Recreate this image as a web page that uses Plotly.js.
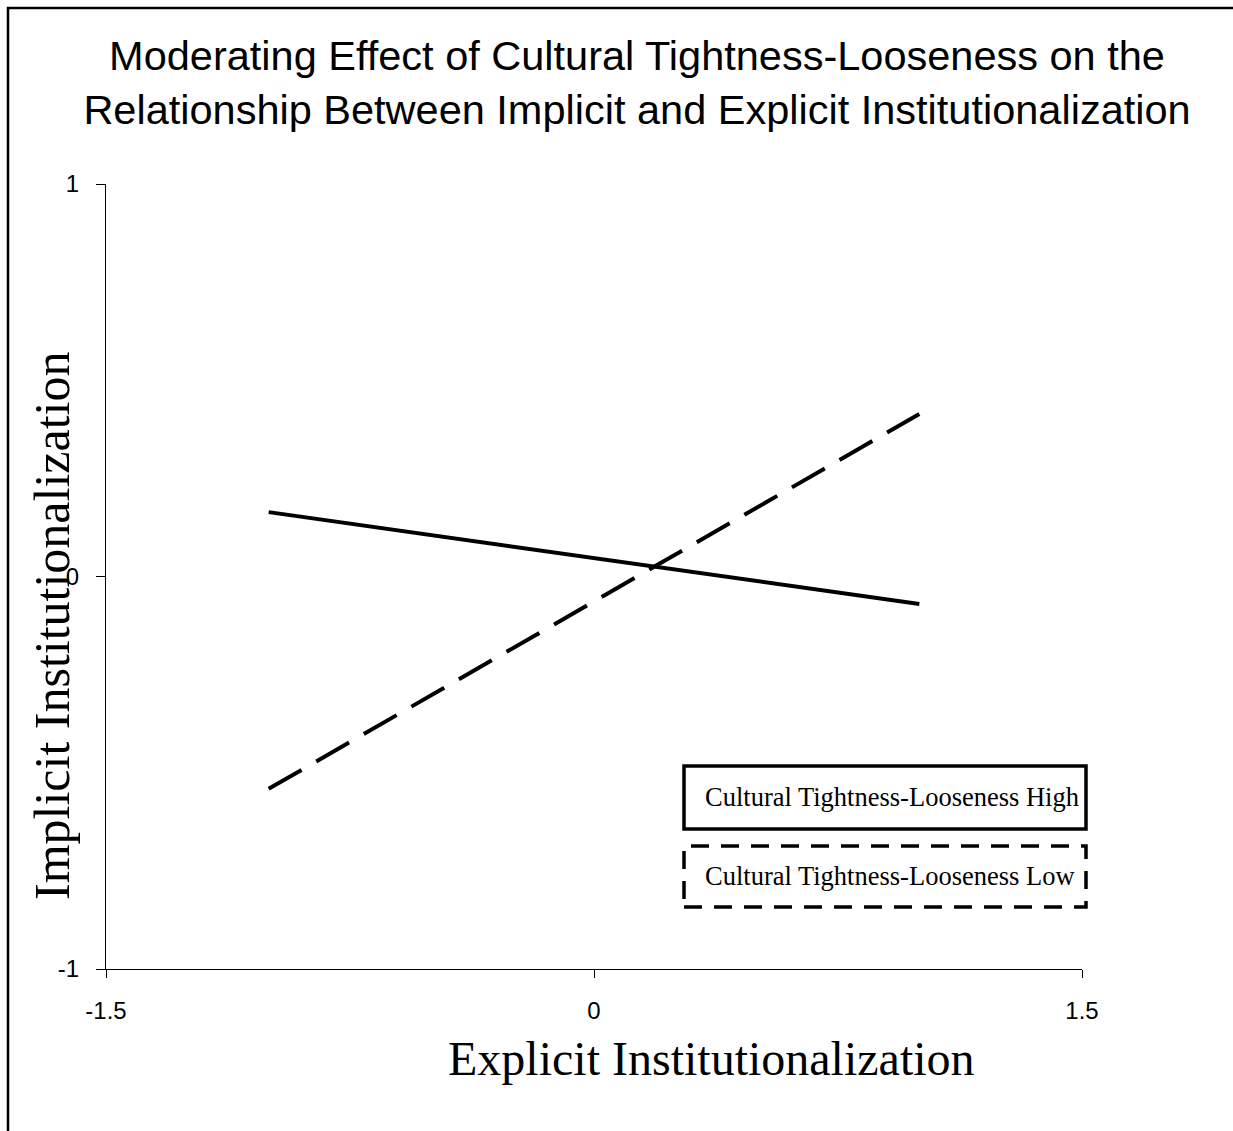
<!DOCTYPE html>
<html>
<head>
<meta charset="utf-8">
<script src="https://cdn.plot.ly/plotly-3.0.1.min.js"></script>
<style>
  html, body { margin: 0; padding: 0; background: #fff; }
  #chart { width: 1233px; height: 1131px; }
</style>
</head>
<body>
<div id="chart"></div>
<script>
// ---- data ----
const explicitLevels = [-1, 1];
const highTL = [0.164, -0.070];
const lowTL = [-0.541, 0.414];
const seriesNames = ["Cultural Tightness-Looseness High", "Cultural Tightness-Looseness Low"];
const xTickVals = [-1.5, 0, 1.5];
const xTickText = ["-1.5", "0", "1.5"];
const yTickVals = [-1, 0, 1];
const yTickText = ["-1", "0", "1"];

// ---- layout helpers (pixel -> paper) ----
const W = 1233, H = 1131;
const L = 106, R = 1082, T = 184, B = 969;
const px = v => (v - L) / (R - L);
const py = v => (B - v) / (B - T);

const sans = "Liberation Sans, Arial, sans-serif";
const serif = "Liberation Serif, Times New Roman, serif";

const traces = [
  { x: explicitLevels, y: highTL, mode: "lines", name: seriesNames[0],
    line: { color: "#000", width: 4 }, showlegend: false },
  { x: explicitLevels, y: lowTL, mode: "lines", name: seriesNames[1],
    line: { color: "#000", width: 4, dash: "37.9px,17px" }, showlegend: false }
];

const layout = {
  width: W, height: H,
  margin: { l: L, r: W - R, t: T, b: H - B },
  paper_bgcolor: "#fff", plot_bgcolor: "#fff",
  title: {
    text: "Moderating Effect of Cultural Tightness-Looseness on the<br>Relationship Between Implicit and Explicit Institutionalization",
    font: { family: sans, size: 41.5, color: "#000" },
    xref: "container", yref: "container",
    x: 637 / W, xanchor: "center", y: 1 - 70 / H, yanchor: "top"
  },
  xaxis: {
    range: [-1.5, 1.5], tickvals: xTickVals, ticktext: xTickText,
    showgrid: false, zeroline: false, showline: true, linecolor: "#000", linewidth: 1,
    ticks: "outside", ticklen: 8, tickcolor: "#000", tickwidth: 1,
    tickfont: { family: sans, size: 24, color: "#000" }, ticklabelstandoff: 12
  },
  yaxis: {
    range: [-1, 1], tickvals: yTickVals, ticktext: yTickText,
    showgrid: false, zeroline: false, showline: true, linecolor: "#000", linewidth: 1,
    ticks: "outside", ticklen: 9, tickcolor: "#000", tickwidth: 1,
    tickfont: { family: sans, size: 24, color: "#000" }, ticklabelstandoff: 12
  },
  showlegend: false,
  shapes: [
    // figure border
    { type: "rect", xref: "paper", yref: "paper", x0: px(8), x1: px(1260), y0: py(1160), y1: py(8),
      line: { color: "#000", width: 2.5 }, fillcolor: "rgba(0,0,0,0)" },
    // legend boxes
    { type: "rect", xref: "paper", yref: "paper", x0: px(684), x1: px(1086), y0: py(829), y1: py(766),
      line: { color: "#000", width: 3.5 }, fillcolor: "rgba(0,0,0,0)" },
    { type: "rect", xref: "paper", yref: "paper", x0: px(684), x1: px(1086), y0: py(907), y1: py(846),
      line: { color: "#000", width: 3.5, dash: "18px,12px" }, fillcolor: "rgba(0,0,0,0)" }
  ],
  annotations: [
    { text: "Explicit Institutionalization", xref: "paper", yref: "paper",
      x: px(711), y: py(1058), xanchor: "center", yanchor: "middle", showarrow: false,
      font: { family: serif, size: 48, color: "#000" } },
    { text: "Implicit Institutionalization", xref: "paper", yref: "paper",
      x: px(52), y: py(626), xanchor: "center", yanchor: "middle", showarrow: false, textangle: -90,
      font: { family: serif, size: 50, color: "#000" } },
    { text: seriesNames[0], xref: "paper", yref: "paper",
      x: px(703), y: py(797), xanchor: "left", yanchor: "middle", showarrow: false,
      font: { family: serif, size: 26.5, color: "#000" } },
    { text: seriesNames[1], xref: "paper", yref: "paper",
      x: px(703), y: py(876), xanchor: "left", yanchor: "middle", showarrow: false,
      font: { family: serif, size: 26.5, color: "#000" } }
  ]
};

Plotly.newPlot("chart", traces, layout, { displayModeBar: false, staticPlot: true });
</script>
</body>
</html>
